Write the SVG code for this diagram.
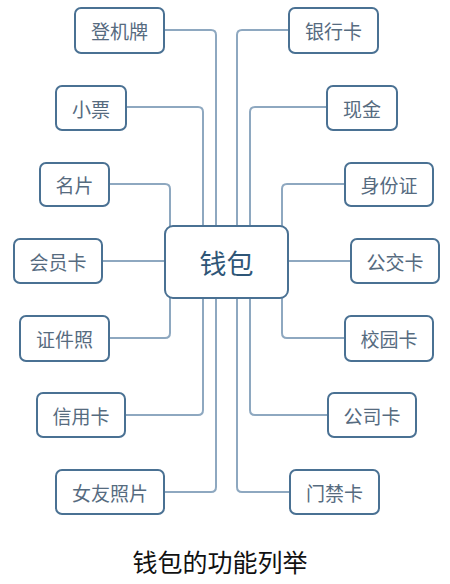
<svg xmlns="http://www.w3.org/2000/svg" width="450" height="584" viewBox="0 0 450 584">
<style>
.box{fill:#ffffff;stroke:#4a7193;stroke-width:2}
.lbl{font-family:"Noto Sans CJK SC","Liberation Sans",sans-serif;font-size:19px;fill:#566b7f;text-anchor:middle;dominant-baseline:central}
.ctr{font-family:"Noto Sans CJK SC","Liberation Sans",sans-serif;font-size:27px;fill:#2f5677;text-anchor:middle;dominant-baseline:central}
.cap{font-family:"Noto Sans CJK SC","Liberation Sans",sans-serif;font-size:25px;fill:#111111;text-anchor:middle}
.con{fill:none;stroke:#8ea8c0;stroke-width:2}
</style>
<rect width="450" height="584" fill="#ffffff"/>
<g id="connectors">
<path class="con" d="M164 30 H211 Q216 30 216 35 V226"/>
<path class="con" d="M126 107 H198 Q203 107 203 112 V226"/>
<path class="con" d="M109 184 H165 Q170 184 170 189 V226"/>
<path class="con" d="M102 261 H165"/>
<path class="con" d="M109 338 H165 Q170 338 170 333 V298"/>
<path class="con" d="M125 415 H198 Q203 415 203 410 V298"/>
<path class="con" d="M164 492 H211 Q216 492 216 487 V298"/>
<path class="con" d="M289 30 H242 Q237 30 237 35 V226"/>
<path class="con" d="M327 107 H255 Q250 107 250 112 V226"/>
<path class="con" d="M345 184 H287 Q282 184 282 189 V226"/>
<path class="con" d="M351 261 H288"/>
<path class="con" d="M345 338 H287 Q282 338 282 333 V298"/>
<path class="con" d="M328 415 H255 Q250 415 250 410 V298"/>
<path class="con" d="M290 492 H242 Q237 492 237 487 V298"/>
</g>
<g id="center"><rect class="box" x="165" y="226" width="123" height="72" rx="8"/><text class="ctr" x="226.5" y="262">钱包</text></g>
<g id="n-dengjipai"><rect class="box" x="75" y="8" width="89" height="45" rx="6"/><text class="lbl" x="119.5" y="30.5">登机牌</text></g>
<g id="n-xiaopiao"><rect class="box" x="56" y="86" width="70" height="44" rx="6"/><text class="lbl" x="91" y="108">小票</text></g>
<g id="n-mingpian"><rect class="box" x="40" y="163" width="69" height="43" rx="6"/><text class="lbl" x="74.5" y="184.5">名片</text></g>
<g id="n-huiyuanka"><rect class="box" x="14" y="239" width="88" height="44" rx="6"/><text class="lbl" x="58" y="261">会员卡</text></g>
<g id="n-zhengjianzhao"><rect class="box" x="20" y="316" width="89" height="45" rx="6"/><text class="lbl" x="64.5" y="338.5">证件照</text></g>
<g id="n-xinyongka"><rect class="box" x="37" y="393" width="88" height="44" rx="6"/><text class="lbl" x="81" y="415">信用卡</text></g>
<g id="n-nvyouzhaopian"><rect class="box" x="56" y="470" width="108" height="44" rx="6"/><text class="lbl" x="110" y="492">女友照片</text></g>
<g id="n-yinhangka"><rect class="box" x="289" y="8" width="89" height="45" rx="6"/><text class="lbl" x="333.5" y="30.5">银行卡</text></g>
<g id="n-xianjin"><rect class="box" x="327" y="86" width="70" height="44" rx="6"/><text class="lbl" x="362" y="108">现金</text></g>
<g id="n-shenfenzheng"><rect class="box" x="345" y="163" width="88" height="43" rx="6"/><text class="lbl" x="389" y="184.5">身份证</text></g>
<g id="n-gongjiaoka"><rect class="box" x="351" y="239" width="88" height="44" rx="6"/><text class="lbl" x="395" y="261">公交卡</text></g>
<g id="n-xiaoyuanka"><rect class="box" x="345" y="316" width="88" height="45" rx="6"/><text class="lbl" x="389" y="338.5">校园卡</text></g>
<g id="n-gongsika"><rect class="box" x="328" y="393" width="88" height="44" rx="6"/><text class="lbl" x="372" y="415">公司卡</text></g>
<g id="n-menjinka"><rect class="box" x="290" y="470" width="89" height="44" rx="6"/><text class="lbl" x="334.5" y="492">门禁卡</text></g>
<text class="cap" x="220" y="572">钱包的功能列举</text>
</svg>
